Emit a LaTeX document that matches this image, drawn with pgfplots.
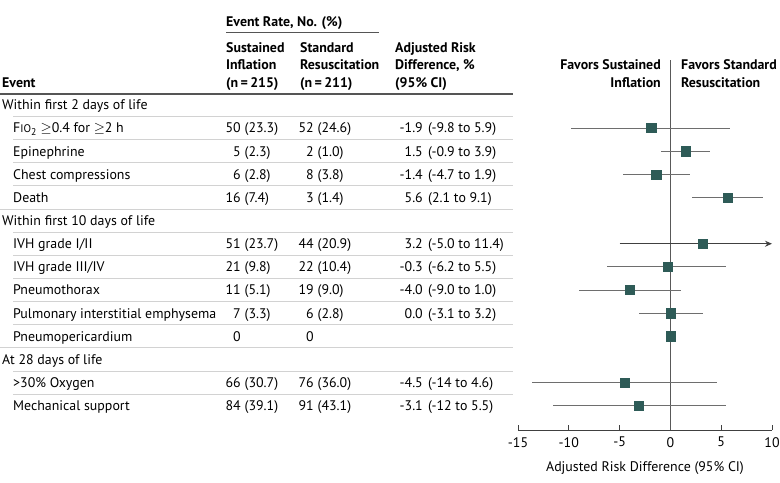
\documentclass[border=0pt]{standalone}
\usepackage{pgfplots}
\pgfplotsset{compat=1.18}
\usepackage{pgfplotstable}
\usetikzlibrary{arrows.meta}
\usepackage{fontspec}
\setmainfont{PT Sans}
\definecolor{mk}{HTML}{2E5B57}
\definecolor{ci}{HTML}{6E6E6E}
\definecolor{sep}{HTML}{D2D2D2}
\definecolor{hdr}{HTML}{555555}

\pgfplotstableread{
row est lo hi
0 -1.9 -9.8 5.9
1 1.5 -0.9 3.9
2 -1.4 -4.7 1.9
3 5.6 2.1 9.1
6 -0.3 -6.2 5.5
7 -4.0 -9.0 1.0
8 0.0 -3.1 3.2
11 -4.5 -13.6 4.6
12 -3.1 -11.6 5.5
}\cidata

\newcommand{\fs}{\fontsize{13.9bp}{16bp}\selectfont}
\newcommand{\T}[3]{\node[anchor=base west,inner sep=0pt] at (#1,#2+4.9) {#3};}
\newcommand{\R}[3]{\node[anchor=base east,inner sep=0pt] at (#1,#2+4.9) {#3};}
\newcommand{\Cnt}[5]{% y, n1, p1, n2, p2
  \R{241}{#1}{#2}\T{244.5}{#1}{#3}\R{314}{#1}{#4}\T{317.5}{#1}{#5}}
\newcommand{\Adj}[3]{\R{423}{#1}{#2}\T{428}{#1}{#3}}

\begin{document}
\begin{tikzpicture}
\useasboundingbox (0,0) rectangle (780bp,-483bp);
\begin{scope}[x=1bp,y=-1bp,font=\fs]
% header
\T{226}{22}{\bfseries Event Rate, No. (\%)}
\draw[hdr,line width=0.8bp] (226,32) -- (379,32);
\T{226}{48}{\bfseries Sustained}
\T{226}{65}{\bfseries Inflation}
\T{226}{83}{\bfseries (n\,=\,215)}
\T{300}{48}{\bfseries Standard}
\T{300}{65}{\bfseries Resuscitation}
\T{300}{83}{\bfseries (n\,=\,211)}
\T{395}{48}{\bfseries Adjusted Risk}
\T{395}{65}{\bfseries Difference, \%}
\T{395}{83}{\bfseries (95\% CI)}
\T{2}{83}{\bfseries Event}
\R{661}{65}{\bfseries Favors Sustained}
\R{661}{83}{\bfseries Inflation}
\T{681}{65}{\bfseries Favors Standard}
\T{681}{83}{\bfseries Resuscitation}
\draw[hdr,line width=1.6bp] (0,94) -- (513,94);
% separators
\foreach \i in {-1,0,1,2,4,5,6,7,8,10,11}
  \draw[sep,line width=0.9bp] (13,128+23.14*\i+11.57) -- (513,128+23.14*\i+11.57);
\foreach \i in {3,9}
  \draw[sep,line width=0.9bp] (0,128+23.14*\i+11.57) -- (513,128+23.14*\i+11.57);
% rows
\T{2}{104.9}{Within first 2 days of life}
\T{13}{128}{F{\fontsize{11bp}{12bp}\selectfont IO}\textsubscript{2} $\geq$0.4 for $\geq$2 h}
\Cnt{128}{50}{(23.3)}{52}{(24.6)} \Adj{128}{-1.9}{(-9.8 to 5.9)}
\T{13}{151.1}{Epinephrine}
\Cnt{151.1}{5}{(2.3)}{2}{(1.0)} \Adj{151.1}{1.5}{(-0.9 to 3.9)}
\T{13}{174.3}{Chest compressions}
\Cnt{174.3}{6}{(2.8)}{8}{(3.8)} \Adj{174.3}{-1.4}{(-4.7 to 1.9)}
\T{13}{197.4}{Death}
\Cnt{197.4}{16}{(7.4)}{3}{(1.4)} \Adj{197.4}{5.6}{(2.1 to 9.1)}
\T{2}{220.6}{Within first 10 days of life}
\T{13}{243.7}{IVH grade I/II}
\Cnt{243.7}{51}{(23.7)}{44}{(20.9)} \Adj{243.7}{3.2}{(-5.0 to 11.4)}
\T{13}{266.8}{IVH grade III/IV}
\Cnt{266.8}{21}{(9.8)}{22}{(10.4)} \Adj{266.8}{-0.3}{(-6.2 to 5.5)}
\T{13}{290}{Pneumothorax}
\Cnt{290}{11}{(5.1)}{19}{(9.0)} \Adj{290}{-4.0}{(-9.0 to 1.0)}
\T{13}{313.1}{Pulmonary interstitial emphysema}
\Cnt{313.1}{7}{(3.3)}{6}{(2.8)} \Adj{313.1}{0.0}{(-3.1 to 3.2)}
\T{13}{336.3}{Pneumopericardium}
\R{241}{336.3}{0}\R{314}{336.3}{0}
\T{2}{359.4}{At 28 days of life}
\T{13}{382.5}{>30\% Oxygen}
\Cnt{382.5}{66}{(30.7)}{76}{(36.0)} \Adj{382.5}{-4.5}{(-14 to 4.6)}
\T{13}{405.7}{Mechanical support}
\Cnt{405.7}{84}{(39.1)}{91}{(43.1)} \Adj{405.7}{-3.1}{(-12 to 5.5)}
\end{scope}

\begin{axis}[
  at={(518bp,-430bp)}, anchor=south west,
  scale only axis, width=254bp, height=370bp,
  xmin=-15, xmax=10, ymin=-2.94, ymax=13.05, y dir=reverse,
  axis x line=bottom, axis y line=none,
  x axis line style={-, draw=black!75, line width=0.7bp},
  xtick={-15,-10,-5,0,5,10}, xticklabels={-15,-10,-5,0,5,10},
  tick align=inside, major tick length=5bp,
  tick style={draw=black!75, line width=0.7bp},
  xticklabel style={font=\fs, inner sep=1bp, yshift=-6bp},
  xlabel={Adjusted Risk Difference (95\% CI)},
  xlabel style={font=\fs, inner sep=0pt, yshift=-13bp},
  clip=false,
]
\addplot[black!65, line width=0.8bp] coordinates {(0,-2.94) (0,13.05)};
\addplot[draw=none, mark=none, error bars/.cd, x dir=both, x explicit,
  error mark=none, error bar style={ci, line width=0.9bp}]
  table[x=est, y=row, x error plus expr=\thisrow{hi}-\thisrow{est},
        x error minus expr=\thisrow{est}-\thisrow{lo}] {\cidata};
\addplot[line width=0.9bp, -{Stealth[length=7bp,width=6bp]}, color=black!75] coordinates {(-5.0,5) (10,5)};
\addplot[only marks, mark=square*, mark size=4.6bp, mark options={fill=mk, draw=mk}]
  table[x=est, y=row] {\cidata};
\addplot[only marks, mark=square*, mark size=4.6bp, mark options={fill=mk, draw=mk}]
  coordinates {(3.2,5) (0.0,9)};
\end{axis}
\end{tikzpicture}
\end{document}
